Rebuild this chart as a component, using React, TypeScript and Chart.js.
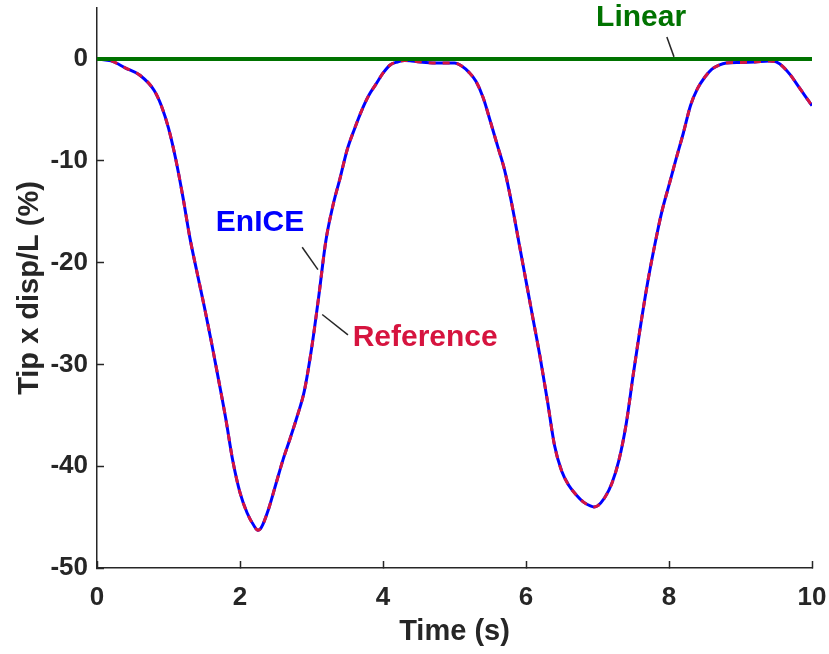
import React, { useEffect, useRef } from "react";
import { Chart, registerables } from "chart.js";

Chart.register(...registerables);

const times = [0, 0.2, 0.4, 0.6, 0.8, 0.9, 1.0, 1.1, 1.2, 1.3, 1.4, 1.5, 1.6, 1.7, 1.8, 1.9, 2.0, 2.1, 2.2, 2.25, 2.3, 2.4, 2.5, 2.6, 2.7, 2.8, 2.9, 3.0, 3.1, 3.2, 3.3, 3.4, 3.5, 3.6, 3.7, 3.8, 3.9, 4.0, 4.1, 4.2, 4.3, 4.4, 4.6, 4.8, 5.0, 5.1, 5.2, 5.3, 5.4, 5.5, 5.6, 5.7, 5.8, 5.9, 6.0, 6.1, 6.2, 6.3, 6.4, 6.5, 6.6, 6.7, 6.8, 6.9, 6.95, 7.0, 7.1, 7.2, 7.3, 7.4, 7.5, 7.6, 7.7, 7.8, 7.9, 8.0, 8.1, 8.2, 8.3, 8.4, 8.5, 8.6, 8.7, 8.8, 9.0, 9.2, 9.4, 9.5, 9.6, 9.7, 9.8, 9.9, 10.0];

const referenceValues = [0, -0.2, -0.9, -1.6, -3.1, -4.6, -6.8, -9.8, -13.5, -17.6, -21.0, -24.3, -27.8, -31.5, -35.3, -39.5, -42.6, -44.6, -45.9, -46.3, -46.0, -44.2, -41.8, -39.4, -37.3, -35.1, -32.6, -28.5, -23.4, -17.9, -14.4, -11.7, -8.9, -6.9, -5.1, -3.6, -2.5, -1.4, -0.6, -0.3, -0.15, -0.2, -0.35, -0.4, -0.4, -0.7, -1.3, -2.2, -3.8, -6.1, -8.5, -10.9, -14.2, -18.0, -21.8, -25.6, -29.4, -33.6, -38.0, -40.5, -41.9, -42.8, -43.5, -43.9, -44.0, -43.9, -43.1, -41.7, -39.4, -35.9, -31.0, -26.3, -22.0, -18.3, -15.0, -12.4, -9.8, -7.3, -4.6, -2.9, -1.8, -1.0, -0.6, -0.4, -0.35, -0.3, -0.2, -0.3, -0.8, -1.6, -2.6, -3.6, -4.6];

const eniceValues = [0, -0.2, -0.9, -1.6, -3.1, -4.6, -6.8, -9.8, -13.5, -17.6, -21.0, -24.3, -27.8, -31.5, -35.3, -39.5, -42.6, -44.6, -45.9, -46.3, -46.0, -44.2, -41.8, -39.4, -37.3, -35.1, -32.6, -28.5, -23.4, -17.9, -14.4, -11.7, -8.9, -6.9, -5.1, -3.6, -2.5, -1.4, -0.6, -0.3, -0.15, -0.2, -0.35, -0.4, -0.4, -0.7, -1.3, -2.2, -3.8, -6.1, -8.5, -10.9, -14.2, -18.0, -21.8, -25.6, -29.4, -33.6, -38.0, -40.5, -41.9, -42.8, -43.5, -43.9, -44.0, -43.9, -43.1, -41.7, -39.4, -35.9, -31.0, -26.3, -22.0, -18.3, -15.0, -12.4, -9.8, -7.3, -4.6, -2.9, -1.8, -1.0, -0.6, -0.4, -0.35, -0.3, -0.2, -0.3, -0.8, -1.6, -2.6, -3.6, -4.6];

const linearTimes = [0, 10];
const linearValues = [0, 0];

const xTicks = [0, 2, 4, 6, 8, 10];
const yTicks = [-50, -40, -30, -20, -10, 0];

const FONT = '"Liberation Sans", Arial, Helvetica, sans-serif';
const AXIS = "#262626";
const BLUE = "#0000ff";
const RED = "#d6143f";
const GREEN = "#007300";

// annotation labels (data coordinates)
const labels = [
  { text: "EnICE", color: BLUE, x: 2.28, y: -16.1, lx1: 2.87, ly1: -18.5, lx2: 3.09, ly2: -20.7 },
  { text: "Reference", color: RED, x: 4.59, y: -27.4, lx1: 3.51, ly1: -27.1, lx2: 3.15, ly2: -25.1 },
  { text: "Linear", color: GREEN, x: 7.61, y: 4.0, lx1: 7.97, ly1: 2.16, lx2: 8.07, ly2: 0.2 },
];

const annotationPlugin = {
  id: "annotations",
  afterDatasetsDraw(chart: any) {
    const { ctx } = chart;
    const xs = chart.scales.x;
    const ys = chart.scales.y;
    ctx.save();
    for (const l of labels) {
      ctx.strokeStyle = AXIS;
      ctx.lineWidth = 1.5;
      ctx.beginPath();
      ctx.moveTo(xs.getPixelForValue(l.lx1), ys.getPixelForValue(l.ly1));
      ctx.lineTo(xs.getPixelForValue(l.lx2), ys.getPixelForValue(l.ly2));
      ctx.stroke();
      ctx.fillStyle = l.color;
      ctx.font = `bold 30px ${FONT}`;
      ctx.textAlign = "center";
      ctx.textBaseline = "middle";
      ctx.fillText(l.text, xs.getPixelForValue(l.x), ys.getPixelForValue(l.y));
    }
    ctx.restore();
  },
};

export default function App() {
  const ref = useRef<HTMLCanvasElement>(null);
  useEffect(() => {
    if (!ref.current) return;
    const chart = new Chart(ref.current, {
      type: "line",
      data: {
        datasets: [
          {
            label: "EnICE",
            data: times.map((t, i) => ({ x: t, y: eniceValues[i] })),
            borderColor: BLUE,
            borderWidth: 3,
            pointRadius: 0,
            cubicInterpolationMode: "monotone",
            order: 3,
          },
          {
            label: "Reference",
            data: times.map((t, i) => ({ x: t, y: referenceValues[i] })),
            borderColor: RED,
            borderWidth: 3,
            borderDash: [7, 7],
            pointRadius: 0,
            cubicInterpolationMode: "monotone",
            order: 2,
          },
          {
            label: "Linear",
            data: linearTimes.map((t, i) => ({ x: t, y: linearValues[i] })),
            borderColor: GREEN,
            borderWidth: 4,
            pointRadius: 0,
            order: 1,
          },
        ],
      },
      options: {
        animation: false,
        responsive: true,
        maintainAspectRatio: false,
        layout: { padding: { top: 8, right: 17, left: 0, bottom: 0 } },
        plugins: { legend: { display: false }, tooltip: { enabled: false } },
        scales: {
          x: {
            type: "linear",
            min: 0,
            max: 10,
            afterFit: (s: any) => { s.height = 86; s.paddingLeft = 0; s.paddingRight = 0; },
            afterBuildTicks: (s: any) => { s.ticks = xTicks.map((v) => ({ value: v })); },
            ticks: { color: AXIS, font: { family: FONT, size: 26, weight: "bold" }, padding: 21, maxRotation: 0 },
            grid: { drawOnChartArea: false, tickLength: -7, tickColor: AXIS, tickWidth: 1.5 },
            border: { color: AXIS, width: 1.5 },
            title: { display: true, text: "Time (s)", color: AXIS, font: { family: FONT, size: 29, weight: "bold" }, padding: { top: 0, bottom: 5 } },
          },
          y: {
            type: "linear",
            min: -50,
            max: 5,
            afterFit: (s: any) => { s.width = 97; s.paddingTop = 0; s.paddingBottom = 0; },
            afterBuildTicks: (s: any) => { s.ticks = yTicks.map((v) => ({ value: v })); },
            ticks: { color: AXIS, font: { family: FONT, size: 26, weight: "bold" }, padding: 16 },
            grid: { drawOnChartArea: false, tickLength: -7, tickColor: AXIS, tickWidth: 1.5 },
            border: { color: AXIS, width: 1.5 },
            title: { display: true, text: "Tip x disp/L (%)", color: AXIS, font: { family: FONT, size: 29, weight: "bold" }, padding: { top: 13, bottom: 0 } },
          },
        },
      },
      plugins: [annotationPlugin],
    });
    return () => chart.destroy();
  }, []);
  return (
    <div style={{ position: "absolute", left: 0, top: 0, width: 829, height: 654, background: "#fff" }}>
      <canvas ref={ref} />
    </div>
  );
}
